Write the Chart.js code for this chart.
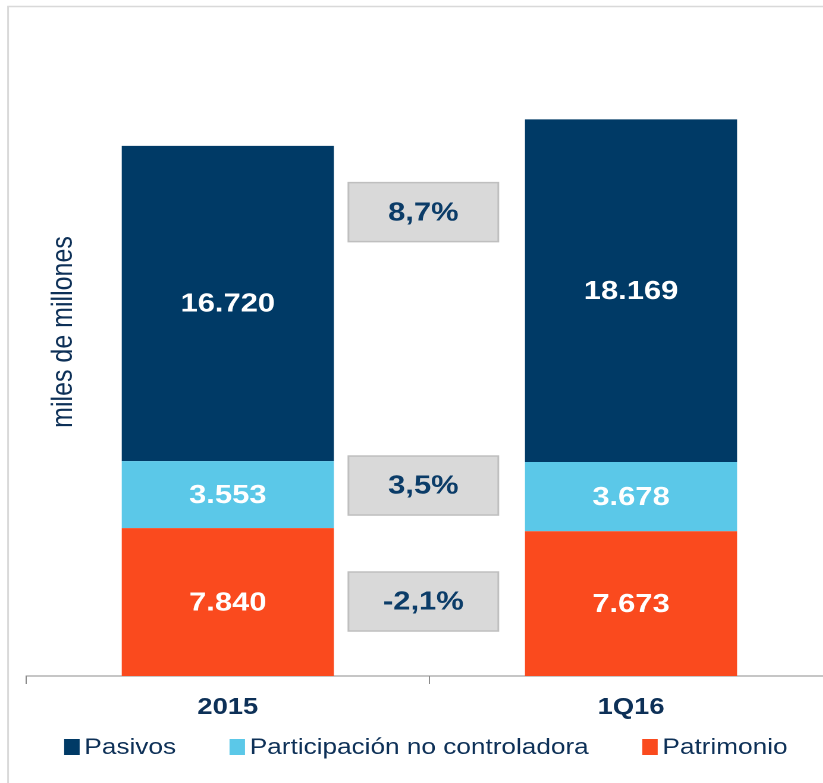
<!DOCTYPE html>
<html>
<head>
<meta charset="utf-8">
<script src="https://cdn.jsdelivr.net/npm/chart.js@4.4.1/dist/chart.umd.min.js"></script>
<style>
  html, body { margin: 0; padding: 0; background: #fff; width: 823px; height: 783px; overflow: hidden; }
  /* the reference is stretched horizontally, so the chart is drawn narrower and widened */
  #wrap { width: 702px; height: 783px; transform: scaleX(1.1895); transform-origin: 0 0; }
</style>
</head>
<body>
<div id="wrap"><canvas id="chart" width="702" height="783"></canvas></div>
<script>
// data
const categories = ['2015', '1Q16'];
const pasivos = [16720, 18169];
const participacion = [3553, 3678];
const patrimonio = [7840, 7673];
const changeLabels = ['8,7%', '3,5%', '-2,1%'];
const changeLevels = [24600, 10100, 3950]; // where each change box sits on the value axis
const yMax = 35000;

const navy = '#003a66';
const textNavy = '#0d3057';
const FONT = "Arial, 'Liberation Sans', sans-serif";
Chart.defaults.font.family = FONT;

function fmt(v) {
    return String(v).replace(/\B(?=(\d{3})+(?!\d))/g, '.');
}

// light grey frame round the chart
const framePlugin = {
    id: 'frame',
    beforeDraw(chart) {
        const ctx = chart.ctx;
        ctx.save();
        ctx.strokeStyle = '#d9d9d9';
        ctx.lineWidth = 1.5;
        ctx.strokeRect(6.8, 6.5, chart.width + 20, chart.height + 20);
        ctx.restore();
    }
};

// values in the middle of each segment
const valueLabels = {
    id: 'valueLabels',
    afterDatasetsDraw(chart) {
        const ctx = chart.ctx;
        ctx.save();
        ctx.fillStyle = '#ffffff';
        ctx.font = 'bold 26px ' + FONT;
        ctx.textAlign = 'center';
        ctx.textBaseline = 'middle';
        chart.data.datasets.forEach((ds, i) => {
            chart.getDatasetMeta(i).data.forEach((bar, j) => {
                const p = bar.getProps(['x', 'y', 'base'], true);
                ctx.fillText(fmt(ds.data[j]), p.x, (p.y + p.base) / 2 + 1);
            });
        });
        ctx.restore();
    }
};

// grey boxes with the % change between the two bars
const changeBoxes = {
    id: 'changeBoxes',
    afterDatasetsDraw(chart) {
        const ctx = chart.ctx;
        const xs = chart.scales.x, ys = chart.scales.y;
        const cx = xs.getPixelForValue(0.485);
        const w = 126, h = 59;
        ctx.save();
        changeLabels.forEach((txt, i) => {
            const cy = ys.getPixelForValue(changeLevels[i]);
            ctx.fillStyle = '#d9d9d9';
            ctx.fillRect(cx - w / 2, cy - h / 2, w, h);
            ctx.strokeStyle = '#bfbfbf';
            ctx.lineWidth = 1.5;
            ctx.strokeRect(cx - w / 2, cy - h / 2, w, h);
            ctx.fillStyle = '#0b3c68';
            ctx.font = 'bold 26px ' + FONT;
            ctx.textAlign = 'center';
            ctx.textBaseline = 'middle';
            ctx.fillText(txt, cx, cy + 1);
        });
        ctx.restore();
    }
};

// rotated axis caption, sits inside the plot area like in the original
const yCaption = {
    id: 'yCaption',
    afterDraw(chart) {
        const ctx = chart.ctx;
        ctx.save();
        ctx.translate(53.5, 332);
        ctx.rotate(-Math.PI / 2);
        ctx.fillStyle = textNavy;
        ctx.font = '25px ' + FONT;
        ctx.textAlign = 'center';
        ctx.textBaseline = 'middle';
        ctx.fillText('miles de millones', 0, 0);
        ctx.restore();
    }
};

// legend drawn by hand: the built-in one keeps too much space round it
const bottomLegend = {
    id: 'bottomLegend',
    afterDraw(chart) {
        const ctx = chart.ctx;
        const items = chart.data.datasets.slice().reverse();
        const box = 13, boxH = 16, gap = 4, spacing = 45;
        ctx.save();
        ctx.font = '22px ' + FONT;
        ctx.textBaseline = 'middle';
        ctx.textAlign = 'left';
        const widths = items.map(ds => box + gap + ctx.measureText(ds.label).width);
        const total = widths.reduce((a, b) => a + b, 0) + spacing * (items.length - 1);
        let x = 358 - total / 2;
        const y = 747;
        items.forEach((ds, i) => {
            ctx.fillStyle = ds.backgroundColor;
            ctx.fillRect(x, y - boxH / 2, box, boxH);
            ctx.fillStyle = textNavy;
            ctx.fillText(ds.label, x + box + gap, y + 1);
            x += widths[i] + spacing;
        });
        ctx.restore();
    }
};

const ctx = document.getElementById('chart').getContext('2d');
const chart = new Chart(ctx, {
    type: 'bar',
    data: {
        labels: categories,
        datasets: [
            { label: 'Patrimonio', data: patrimonio, backgroundColor: '#fa4a1e' },
            { label: 'Participación no controladora', data: participacion, backgroundColor: '#5bc8e8' },
            { label: 'Pasivos', data: pasivos, backgroundColor: navy }
        ]
    },
    options: {
        responsive: false,
        animation: false,
        devicePixelRatio: 2,
        barPercentage: 0.526,
        categoryPercentage: 1,
        borderWidth: 0,
        layout: { padding: { top: 16, bottom: 61, left: 22, right: 2 } },
        scales: {
            x: {
                stacked: true,
                border: { display: true, color: '#8c8c8c', width: 1 },
                grid: { display: true, drawOnChartArea: false, drawTicks: true, tickLength: 8, color: '#8c8c8c', offset: true },
                ticks: {
                    color: textNavy,
                    padding: 10,
                    maxRotation: 0,
                    font: { size: 23, weight: 'bold' }
                },
                afterFit(scale) { scale.height = 46; }
            },
            y: {
                stacked: true,
                display: false,
                min: 0,
                max: yMax
            }
        },
        plugins: {
            legend: { display: false },
            tooltip: { enabled: false }
        }
    },
    plugins: [framePlugin, valueLabels, changeBoxes, yCaption, bottomLegend]
});
</script>
</body>
</html>
